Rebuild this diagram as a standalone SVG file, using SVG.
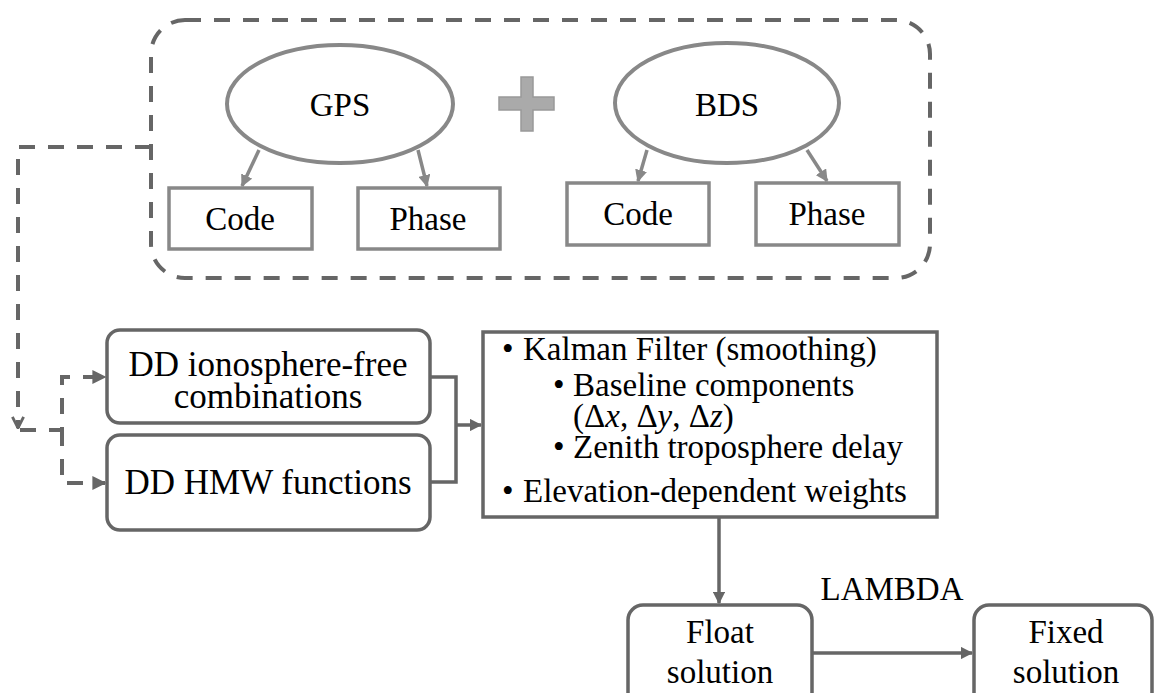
<svg xmlns="http://www.w3.org/2000/svg" width="1154" height="693" viewBox="0 0 1154 693" font-family="'Liberation Serif', 'Times New Roman', serif">
<style>
text{font-family:'Liberation Serif','Times New Roman',serif;fill:#000}
.t33c{font-size:33px;text-anchor:middle}
.t35{font-size:35px;text-anchor:middle}
.t33{font-size:33px}
.ell{fill:#fff;stroke:#888;stroke-width:4}
.sbox{fill:#fff;stroke:#888;stroke-width:3.5}
.rbox{fill:#fff;stroke:#666;stroke-width:3.5}
.dash{fill:none;stroke:#666;stroke-width:4;stroke-dasharray:16 13}
.lt{fill:none;stroke:#888;stroke-width:3.5}
.dk{fill:none;stroke:#666;stroke-width:3.5}
</style>
<defs>
<marker id="ag" viewBox="0 0 10 10" refX="9" refY="5" markerWidth="3.5" markerHeight="3.5" markerUnits="strokeWidth" orient="auto">
<path d="M0,0 L10,5 L0,10 z" fill="#888"/>
</marker>
<marker id="ad" viewBox="0 0 10 10" refX="9" refY="5" markerWidth="3.5" markerHeight="3.5" markerUnits="strokeWidth" orient="auto">
<path d="M0,0 L10,5 L0,10 z" fill="#666"/>
</marker>
<marker id="av" viewBox="0 0 10 10" refX="9" refY="5" markerWidth="3.5" markerHeight="3.5" markerUnits="strokeWidth" orient="auto">
<path d="M1,1 L9,5 L1,9" fill="none" stroke="#666" stroke-width="2"/>
</marker>
</defs>

<g id="container">
<rect x="151" y="20" width="779" height="258" rx="34" class="dash"/>
</g>

<g id="gps">
<ellipse cx="340" cy="104" rx="113" ry="59" class="ell"/>
<text class="t33c" x="340" y="116">GPS</text>
</g>
<g id="plus">
<path d="M521,77 H533 V97 H554 V110 H533 V131 H521 V110 H499 V97 H521 Z" fill="#aaa" stroke="#999" stroke-width="1.5"/>
</g>
<g id="bds">
<ellipse cx="727" cy="103" rx="112" ry="60" class="ell"/>
<text class="t33c" x="727" y="116">BDS</text>
</g>
<g id="gps-code">
<rect x="169" y="188" width="143" height="61" class="sbox"/>
<text class="t33c" x="240" y="230">Code</text>
</g>
<g id="gps-phase">
<rect x="358" y="188" width="142" height="61" class="sbox"/>
<text class="t33c" x="428" y="230">Phase</text>
</g>
<g id="bds-code">
<rect x="567" y="183" width="142" height="62" class="sbox"/>
<text class="t33c" x="638" y="225">Code</text>
</g>
<g id="bds-phase">
<rect x="756" y="183" width="143" height="62" class="sbox"/>
<text class="t33c" x="827" y="225">Phase</text>
</g>

<g id="dd-if">
<rect x="107" y="330" width="323" height="93" rx="13" class="rbox"/>
<text class="t35" x="268" y="376">DD ionosphere-free</text>
<text class="t35" x="268" y="408">combinations</text>
</g>
<g id="dd-hmw">
<rect x="107" y="435" width="323" height="95" rx="13" class="rbox"/>
<text class="t35" x="268" y="494">DD HMW functions</text>
</g>

<g id="kalman">
<rect x="483" y="332" width="454" height="185" class="rbox" stroke="#777"/>
<text class="t33" x="502" y="360">•</text>
<text class="t33" x="523" y="360">Kalman Filter (smoothing)</text>
<text class="t33" x="553" y="396">•</text>
<text class="t33" x="573" y="396">Baseline components</text>
<text class="t33" x="573" y="427">(Δ<tspan font-style="italic">x</tspan>, Δ<tspan font-style="italic">y</tspan>, Δ<tspan font-style="italic">z</tspan>)</text>
<text class="t33" x="553" y="458">•</text>
<text class="t33" x="573" y="458">Zenith troposphere delay</text>
<text class="t33" x="502" y="502">•</text>
<text class="t33" x="523" y="502">Elevation-dependent weights</text>
</g>

<g id="float">
<rect x="628" y="605" width="184" height="110" rx="15" class="rbox"/>
<text class="t33c" x="720" y="643">Float</text>
<text class="t33c" x="720" y="683">solution</text>
</g>
<g id="fixed">
<rect x="974" y="605" width="178" height="110" rx="15" class="rbox"/>
<text class="t33c" x="1066" y="643">Fixed</text>
<text class="t33c" x="1066" y="683">solution</text>
</g>

<g id="connectors">
<line x1="259" y1="150" x2="242" y2="186" class="lt" marker-end="url(#ag)"/>
<line x1="418" y1="150" x2="427" y2="186" class="lt" marker-end="url(#ag)"/>
<line x1="647" y1="150" x2="638" y2="181" class="lt" marker-end="url(#ag)"/>
<line x1="807" y1="150" x2="827" y2="181" class="lt" marker-end="url(#ag)"/>
<path d="M151,147 H18 V428" class="dash" marker-end="url(#av)"/>
<path d="M20,430 H62 V377 H105" class="dash" stroke-width="3.5" marker-end="url(#ad)"/>
<path d="M62,430 V483 H105" class="dash" stroke-width="3.5" marker-end="url(#ad)"/>
<path d="M430,377 H456 V482 H430" class="dk"/>
<line x1="456" y1="425" x2="481" y2="425" class="dk" marker-end="url(#ad)"/>
<line x1="719" y1="517" x2="719" y2="603" class="dk" marker-end="url(#ad)"/>
<line x1="812" y1="653" x2="972" y2="653" class="dk" stroke-width="4.5" marker-end="url(#ad)"/>
<text class="t33c" x="892" y="600">LAMBDA</text>
</g>
</svg>
